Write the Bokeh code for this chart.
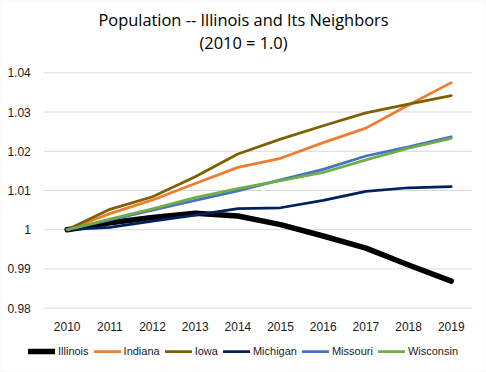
from bokeh.plotting import figure
from bokeh.models import Range1d, Legend, LegendItem, Label, FixedTicker, BoxAnnotation
from bokeh.embed import file_html
from bokeh.resources import INLINE

years = ["2010", "2011", "2012", "2013", "2014", "2015", "2016", "2017", "2018", "2019"]
illinois = [1.0, 1.0018, 1.0031, 1.0042, 1.0035, 1.0013, 0.9984, 0.9953, 0.9910, 0.9869]
indiana = [1.0, 1.0041, 1.0076, 1.0118, 1.0159, 1.0182, 1.0222, 1.0259, 1.0318, 1.0375]
iowa = [1.0, 1.0052, 1.0084, 1.0135, 1.0193, 1.0231, 1.0265, 1.0298, 1.0320, 1.0342]
michigan = [1.0, 1.0006, 1.0022, 1.0037, 1.0054, 1.0056, 1.0075, 1.0098, 1.0107, 1.0110]
missouri = [1.0, 1.0025, 1.0050, 1.0075, 1.0099, 1.0127, 1.0154, 1.0188, 1.0211, 1.0237]
wisconsin = [1.0, 1.0027, 1.0053, 1.0082, 1.0105, 1.0125, 1.0146, 1.0178, 1.0208, 1.0233]
y_ticks = [0.98, 0.99, 1.0, 1.01, 1.02, 1.03, 1.04]
y_tick_labels = ["0.98", "0.99", "1", "1.01", "1.02", "1.03", "1.04"]
title_lines = ["Population -- Illinois and Its Neighbors", "(2010 = 1.0)"]

series = [
    ("Illinois", illinois, "#000000", 5.5),
    ("Indiana", indiana, "#ED7D31", 2.75),
    ("Iowa", iowa, "#7F6000", 2.75),
    ("Michigan", michigan, "#002060", 2.75),
    ("Missouri", missouri, "#4472C4", 2.75),
    ("Wisconsin", wisconsin, "#70AD47", 2.75),
]

# ---- layout (pixels inside the canvas) ----
W, H = 486, 372
X_FIRST_PX, X_STEP_PX = 66.7, 42.67      # centre of first category, category width
GRID_LEFT_PX, GRID_RIGHT_PX = 43.3, 471.7
Y_TOP_PX, Y_BOT_PX = 72.3, 307.7          # pixel rows of top / bottom gridline

xs = [int(y) for y in years]
x_lo = xs[0] - X_FIRST_PX / X_STEP_PX
x_hi = x_lo + W / X_STEP_PX
upp = (y_ticks[-1] - y_ticks[0]) / (Y_BOT_PX - Y_TOP_PX)
y_hi = y_ticks[-1] + Y_TOP_PX * upp
y_lo = y_ticks[0] - (H - Y_BOT_PX) * upp
grid_x0 = x_lo + GRID_LEFT_PX / X_STEP_PX
grid_x1 = x_lo + GRID_RIGHT_PX / X_STEP_PX

p = figure(width=W, height=H, x_range=Range1d(x_lo, x_hi), y_range=Range1d(y_lo, y_hi),
           output_backend="svg", toolbar_location=None, min_border=0)
p.title = None
p.outline_line_color = None
p.background_fill_color = "white"
p.border_fill_color = "white"
p.xgrid.visible = False
p.ygrid.visible = False

p.add_layout(BoxAnnotation(left=0.5, right=W - 0.5, bottom=0.5, top=H - 0.5,
                           left_units="screen", right_units="screen",
                           bottom_units="screen", top_units="screen",
                           fill_alpha=0, line_color="#D9D9D9", line_width=1))

p.segment(x0=grid_x0, x1=grid_x1, y0=y_ticks, y1=y_ticks, line_color="#D9D9D9", line_width=1)

p.yaxis.ticker = FixedTicker(ticks=y_ticks)
p.yaxis.major_label_overrides = {t: l for t, l in zip(y_ticks, y_tick_labels)}
p.yaxis.fixed_location = grid_x0
p.xaxis.ticker = FixedTicker(ticks=xs)
p.xaxis.major_label_overrides = {x: s for x, s in zip(xs, years)}
p.xaxis.fixed_location = y_ticks[0]
for ax in (p.xaxis[0], p.yaxis[0]):
    ax.axis_line_color = None
    ax.major_tick_line_color = None
    ax.minor_tick_line_color = None
    ax.major_label_text_font = "Liberation Sans"
    ax.major_label_text_font_size = "12px"
    ax.major_label_text_color = "#1a1a1a"
p.yaxis.major_label_standoff = 7
p.xaxis.major_label_standoff = 8

items = []
for name, vals, color, lw in series:
    r = p.line(xs, vals, line_color=color, line_width=lw, line_cap="round", line_join="round")
    items.append(LegendItem(label=name, renderers=[r]))

legend = Legend(items=items, orientation="horizontal", location=(28, 15),
                label_text_font="Liberation Sans", label_text_font_size="11px",
                label_text_color="#1a1a1a", glyph_width=27, glyph_height=12,
                label_standoff=3, spacing=5, padding=2, margin=0,
                border_line_color=None, background_fill_alpha=0)
p.add_layout(legend, "center")

for text, ypx in zip(title_lines, [18.5, 42]):
    p.add_layout(Label(x=243, y=H - ypx, x_units="screen", y_units="screen", text=text,
                       text_align="center", text_baseline="middle", text_font="Open Sans",
                       text_font_size="16.4px", text_color="#000000"))

open("out.html", "w").write(file_html(p, INLINE))
